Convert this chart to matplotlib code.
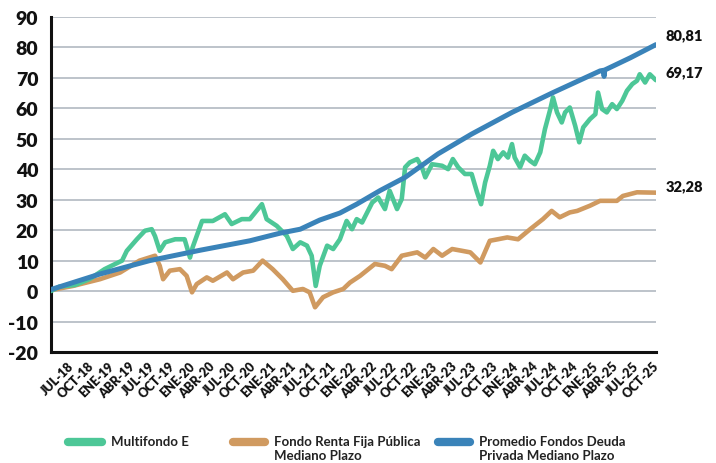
import numpy as np
import matplotlib
matplotlib.use("Agg")
import matplotlib.pyplot as plt
from matplotlib.lines import Line2D

plt.rcParams['font.family'] = ['Lato', 'DejaVu Sans']

# months since JUL-18
multi_m = [0, 1.3, 3.6, 5.8, 8.0, 10.6, 11.3, 12.8, 14.0, 15.0, 15.5, 16.2, 17.0, 18.5,
           19.9, 20.7, 21.1, 22.5, 24.1, 25.9, 26.9, 28.4, 29.6, 31.4, 32.1, 33.6, 35.1,
           36.0, 37.1, 38.1, 38.8, 39.4, 40.0, 41.1, 42.0, 43.0, 44.0, 44.8, 45.5, 46.3,
           47.8, 48.7, 49.7, 50.4, 51.5, 52.2, 52.7, 53.4, 54.5, 55.2, 55.7, 56.7, 58.2,
           59.1, 59.8, 60.6, 61.6, 62.6, 63.4, 64.0, 64.6, 65.3, 65.8, 66.5, 67.3, 68.0,
           68.6, 69.0, 69.8, 70.5, 71.3, 72.0, 72.8, 73.5, 74.3, 74.7, 75.3, 76.0, 76.5,
           77.2, 78.0, 78.6, 79.2, 80.2, 81.0, 81.4, 82.0, 82.7, 83.5, 84.2, 85.0, 85.7,
           86.5, 87.2, 87.6, 88.4, 89.1, 90.0]
multi_v = [0, 1.5, 2, 4, 7.2, 10, 13.2, 17, 19.8, 20.3, 18, 13.2, 16, 17,
           17, 11, 14.4, 23, 23, 25.2, 22, 23.6, 23.6, 28.5, 23.6, 21.4, 18.1,
           13.8, 16, 14.9, 11.6, 1.7, 8.3, 14.9, 13.8, 17, 23, 20.3, 23.6, 22.5,
           29, 30.7, 26.9, 32.9, 26.9, 30.2, 40.6, 42.2, 43.3, 40.6, 37.3, 41.6, 41.1,
           40, 43.3, 40.6, 38.4, 38.4, 32.4, 28.5, 35.6, 41.1, 46, 43.3, 45.5, 43.8,
           48.2, 43.8, 40.6, 44.4, 42.7, 41.6, 45.5, 53.1, 59.7, 63.5, 58.6, 55.3, 58.6,
           60.2, 54.2, 48.8, 53.7, 56.4, 58, 65.1, 59.7, 58.6, 61.3, 59.7, 62.4, 65.7,
           67.9, 69, 71.1, 68.4, 71.1, 69.17]

renta_m = [0, 3.3, 7.3, 10.3, 13.2, 15.5, 16.2, 16.7, 17.7, 19.2, 20.2, 21.0, 21.7,
           23.2, 24.1, 26.2, 27.1, 28.6, 30.1, 31.5, 33.0, 34.5, 36.0, 37.5, 38.5, 39.3,
           40.5, 42.0, 43.5, 44.5, 46.0, 48.2, 49.7, 50.7, 52.2, 54.5, 55.7, 56.9, 58.2,
           59.7, 61.2, 62.4, 63.9, 65.3, 66.5, 67.9, 69.5, 71.3, 73.2, 74.5, 75.7, 77.2,
           78.3, 80.2, 81.7, 84.2, 85.1, 87.2, 90.0]
renta_v = [0.3, 1.7, 3.9, 6.1, 10, 11.6, 8.3, 3.9, 6.7, 7.2, 5, -0.4, 2.3,
           4.5, 3.4, 6.1, 3.9, 6.1, 6.7, 10, 7.2, 3.9, 0.1, 0.7, -0.4, -5.3,
           -2, -0.4, 0.7, 2.8, 5, 8.9, 8.3, 7.2, 11.6, 12.7, 11, 13.8, 11.6,
           13.8, 13.2, 12.7, 9.4, 16.5, 17, 17.6, 17, 20.3, 23.6, 26.3, 24.2, 25.8,
           26.3, 28, 29.6, 29.6, 31.2, 32.4, 32.28]

deuda_m = [0, 7.3, 14.7, 22.2, 29.6, 34.1, 37.1, 40.0, 43.0, 45.5, 49.0, 52.7,
           57.6, 62.6, 68.6, 74.7, 81.7, 82.2, 82.3, 82.4, 86.2, 90.0]
deuda_v = [0.5, 5.6, 10, 13.4, 16.5, 19, 20.3, 23.3, 25.6, 28.5, 33, 37.3,
           45, 51.5, 58.6, 65.1, 72.2, 72.4, 70.4, 72.5, 76.5, 80.81]

tick_labels = ['JUL-18', 'OCT-18']
for yy in range(19, 26):
    for mes in ['ENE', 'ABR', 'JUL', 'OCT']:
        tick_labels.append(f'{mes}-{yy}')

c_multi = '#4DC797'
c_renta = '#D09A60'
c_deuda = '#3A83B9'

fig = plt.figure(figsize=(7.16, 4.64), dpi=100)
ax = fig.add_axes([0.071, 0.239, 0.845, 0.723])

for y in range(-10, 100, 10):
    ax.axhline(y, color='#B8BEC6', lw=1.3, zorder=0)

ax.plot(renta_m, renta_v, color=c_renta, lw=3.3, solid_capstyle='round', zorder=2)
ax.plot(multi_m, multi_v, color=c_multi, lw=3.3, solid_capstyle='round', zorder=3)
ax.plot(deuda_m, deuda_v, color=c_deuda, lw=3.6, solid_capstyle='round', zorder=4)

ax.set_xlim(0, 90)
ax.set_ylim(-20, 90)
ax.set_yticks(range(-20, 100, 10))
ax.set_yticklabels([str(v) for v in range(-20, 100, 10)], fontsize=14,
                   fontweight='heavy', color='#111111')
ax.tick_params(axis='y', length=0, pad=9)

ax.set_xticks([3 * i + 2.5 for i in range(len(tick_labels))])
ax.set_xticklabels(tick_labels, rotation=45, ha='right', rotation_mode='anchor',
                   fontsize=9, fontweight='heavy', color='#111111')
ax.tick_params(axis='x', length=0, pad=5)

for s in ['top', 'right']:
    ax.spines[s].set_visible(False)
ax.spines['left'].set_linewidth(2.2)
ax.spines['bottom'].set_linewidth(2.2)
ax.spines['left'].set_color('#111111')
ax.spines['bottom'].set_color('#111111')

# etiquetas finales
for val, ypos in [(deuda_v[-1], 84), (multi_v[-1], 71.8), (renta_v[-1], 34.4)]:
    ax.text(91.5, ypos, f'{val:.2f}'.replace('.', ','), fontsize=10.5,
            fontweight='heavy', color='#111111', va='center', ha='left', clip_on=False)

# leyenda
W, H = 716, 464
entries = [(68, 102, c_multi, 'Multifondo E'),
           (233, 265, c_renta, 'Fondo Renta Fija Pública\nMediano Plazo'),
           (438, 470, c_deuda, 'Promedio Fondos Deuda\nPrivada Mediano Plazo')]
for x0, x1, col, lab in entries:
    yl = 1 - 443 / H
    fig.add_artist(Line2D([x0 / W, x1 / W], [yl, yl], color=col, lw=6,
                          solid_capstyle='round', transform=fig.transFigure))
    fig.text((x1 + 9) / W, 1 - 436 / H, lab, fontsize=9.5, fontweight='bold',
             color='#222222', va='top', ha='left', linespacing=1.25)

fig.savefig('out.png', dpi=100)
